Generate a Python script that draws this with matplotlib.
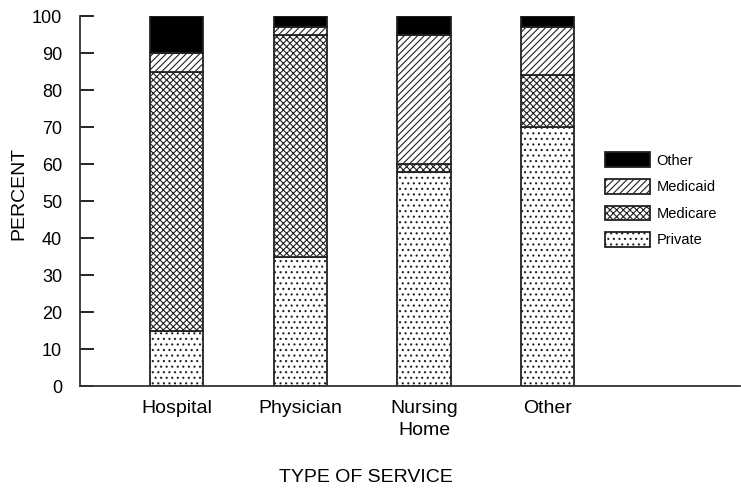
import matplotlib
matplotlib.use("Agg")
import matplotlib.pyplot as plt
import numpy as np

categories = ["Hospital", "Physician", "Nursing\nHome", "Other"]
private = [15, 35, 58, 70]
medicare = [70, 60, 2, 14]
medicaid = [5, 2, 35, 13]
other = [10, 3, 5, 3]
series_names = ["Private", "Medicare", "Medicaid", "Other"]
yticks = [0, 10, 20, 30, 40, 50, 60, 70, 80, 90, 100]

plt.rcParams['font.family'] = ['Liberation Sans', 'DejaVu Sans']
plt.rcParams['hatch.linewidth'] = 0.8
plt.rcParams['hatch.color'] = '#333333'

fig = plt.figure(figsize=(7.41, 4.90), dpi=100)
ax = fig.add_axes([0.108, 0.212, 0.89, 0.755])

x = np.arange(len(categories))
w = 0.43
styles = [
    dict(facecolor='white', hatch='...'),
    dict(facecolor='white', hatch='xxxxx'),
    dict(facecolor='white', hatch='/////'),
    dict(facecolor='black', hatch=None),
]
data = [private, medicare, medicaid, other]
bottom = np.zeros(len(categories))
handles = []
for name, vals, st in zip(series_names, data, styles):
    b = ax.bar(x, vals, w, bottom=bottom, edgecolor='#222222', linewidth=1.3,
               label=name, **st)
    handles.append(b)
    bottom += np.array(vals)

ax.set_xlim(-0.78, 4.55)
ax.set_ylim(0, 100)
ax.set_yticks(yticks)
ax.set_xticks(x)
ax.set_xticklabels(categories, fontsize=14, linespacing=1.35)
ax.tick_params(axis='y', direction='in', length=10, width=1.2, labelsize=13, pad=13)
ax.tick_params(axis='x', length=0, pad=10)
for s in ['top', 'right']:
    ax.spines[s].set_visible(False)
for s in ['left', 'bottom']:
    ax.spines[s].set_linewidth(1.3)
    ax.spines[s].set_color('#333333')

ax.set_ylabel("PERCENT", fontsize=14)
ax.yaxis.set_label_coords(-0.08, 0.52)
ax.set_xlabel("TYPE OF SERVICE", fontsize=14)
ax.xaxis.set_label_coords(0.434, -0.225)

leg = ax.legend(handles[::-1], series_names[::-1], loc='upper left',
                bbox_to_anchor=(0.776, 0.667), frameon=False, fontsize=10.5,
                handlelength=3.1, handleheight=1.15, labelspacing=0.78,
                handletextpad=0.45)

fig.savefig("out.png", dpi=100)
